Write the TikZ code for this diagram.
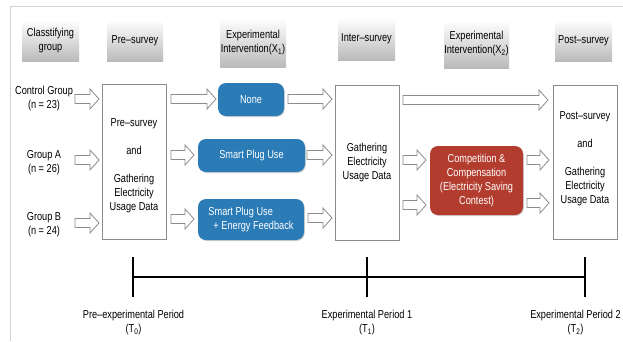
\documentclass[tikz,border=0pt]{standalone}
\usepackage{fontspec}
\setmainfont{Liberation Sans}[FakeStretch=0.8]
\usetikzlibrary{shadows}
\definecolor{bluebox}{HTML}{2B7BB7}
\definecolor{redbox}{HTML}{B23D2E}
\definecolor{edgegray}{HTML}{8C8C8C}
\tikzset{
  every node/.style={font=\fontsize{11.5}{14}\selectfont, inner sep=0pt, align=center},
  hdr/.style={top color=white, bottom color=black!27, draw=none},
  plainbox/.style={draw=edgegray, fill=white, line width=0.8pt},
  bluerect/.style={fill=bluebox, rounded corners=8pt, text=white, drop shadow={shadow xshift=0.8pt, shadow yshift=-1pt, opacity=0.35}},
  redrect/.style={fill=redbox, rounded corners=8pt, text=white, drop shadow={shadow xshift=0.8pt, shadow yshift=-1pt, opacity=0.35}},
  harr/.style={draw=edgegray, fill=white, line width=0.8pt, line join=miter},
  tline/.style={line width=1.6pt, black},
}
\newcommand\harrow[3]{\draw[harr] (#1,#3-4.5) -- (#2-9,#3-4.5) -- (#2-9,#3-10) -- (#2,#3) -- (#2-9,#3+10) -- (#2-9,#3+4.5) -- (#1,#3+4.5) -- cycle;}
\begin{document}
\begin{tikzpicture}[x=1pt,y=-1pt]
\useasboundingbox (0,0) rectangle (623,341);
\fill[white] (0,0) rectangle (623,341);
% frame
\draw[black!18, line width=0.8pt] (10,341) -- (10,6) -- (623,6);
% headers
\node[hdr, minimum width=57pt, minimum height=41pt] (h1) at (50.5,40.5) {Classtifying\\group};
\node[hdr, minimum width=56pt, minimum height=41pt] (h2) at (135,40.5) {Pre–survey};
\node[hdr, minimum width=66pt, minimum height=49pt] (h3) at (253,42.5) {Experimental\\Intervention(X\textsubscript{1})};
\node[hdr, minimum width=57pt, minimum height=42pt] (h4) at (366.5,39) {Inter–survey};
\node[hdr, minimum width=65pt, minimum height=48pt] (h5) at (476.5,44) {Experimental\\Intervention(X\textsubscript{2})};
\node[hdr, minimum width=57pt, minimum height=41pt] (h6) at (583.5,40.5) {Post–survey};
% groups
\node (g0) at (44,98.5) {Control Group\\(n = 23)};
\node (ga) at (44,162.5) {Group A\\(n = 26)};
\node (gb) at (44,225) {Group B\\(n = 24)};
% main boxes
\node[plainbox, minimum width=64pt, minimum height=155pt] (pre) at (134,161.5) {};
\node (pretxt) at (134,166) {Pre–survey\\[14pt]and\\[14pt]Gathering\\Electricity\\Usage Data};
\node[plainbox, minimum width=64pt, minimum height=155pt] (inter) at (367,162.5) {Gathering\\Electricity\\Usage Data};
\node[plainbox, minimum width=64pt, minimum height=154pt] (post) at (585,162) {};
\node (posttxt) at (585,158.5) {Post–survey\\[14pt]and\\[14pt]Gathering\\Electricity\\Usage Data};
% interventions
\node[bluerect, minimum width=66pt, minimum height=33pt] (none) at (251,99.5) {None};
\node[bluerect, minimum width=107pt, minimum height=33pt] (spu) at (251.5,155.5) {Smart Plug Use};
\node[bluerect, minimum width=106pt, minimum height=41pt, align=left] (spf) at (251,219.5) {Smart Plug Use\\\hspace*{5pt}+ Energy Feedback};
\node[redrect, minimum width=93pt, minimum height=69pt] (comp) at (476.5,180.5) {Competition \&\\Compensation\\(Electricity Saving\\Contest)};
% hollow arrows
\harrow{75}{99}{99}
\harrow{75}{99}{160}
\harrow{75}{99}{223}
\harrow{171}{216}{99}
\harrow{171}{194}{155}
\harrow{171}{194}{219}
\harrow{288}{332}{99}
\harrow{307}{332}{155}
\harrow{308}{332}{218}
\harrow{403}{548}{100}
\harrow{403}{426}{160}
\harrow{403}{426}{205}
\harrow{527}{549}{160}
\harrow{527}{549}{203}
% timeline
\coordinate (t0) at (133,277);
\coordinate (t1) at (367,277);
\coordinate (t2) at (585,277);
\draw[tline] (t0) -- (t2);
\draw[tline] ([yshift=20pt]t0) -- ([yshift=-20pt]t0);
\draw[tline] ([yshift=20pt]t1) -- ([yshift=-20pt]t1);
\draw[tline] ([yshift=20pt]t2) -- ([yshift=-20pt]t2);
\node (l0) at (133.5,322.5) {Pre–experimental Period\\(T\textsubscript{0})};
\node (l1) at (367,322.5) {Experimental Period 1\\(T\textsubscript{1})};
\node (l2) at (575.5,322.5) {Experimental Period 2\\(T\textsubscript{2})};
\end{tikzpicture}
\end{document}
